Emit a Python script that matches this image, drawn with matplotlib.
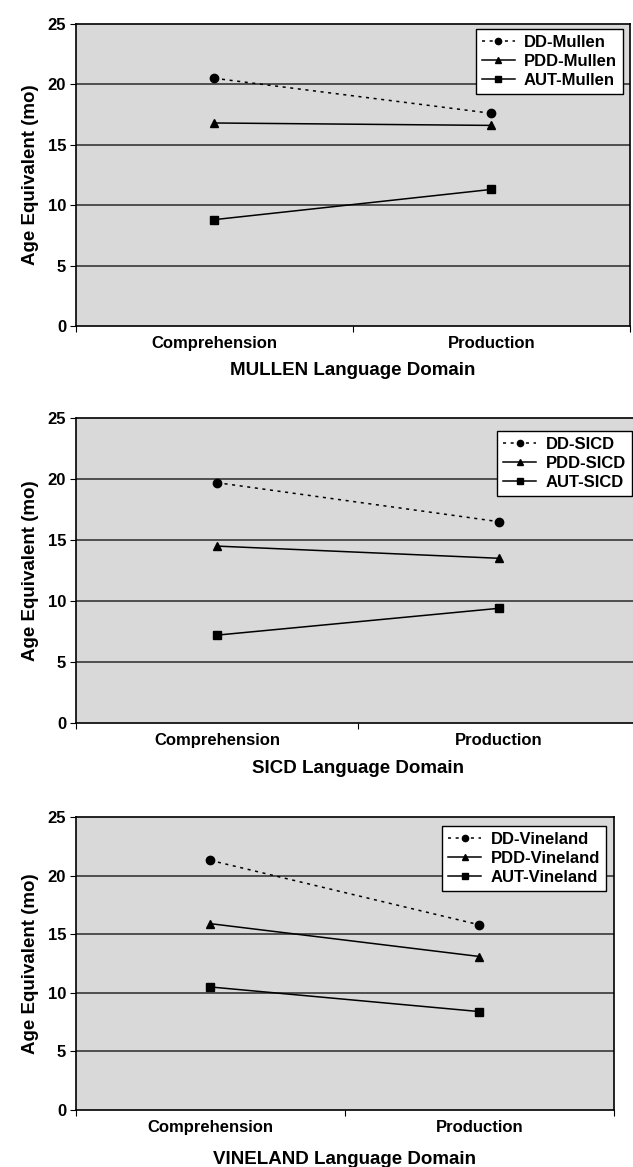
import matplotlib
matplotlib.use("Agg")
import matplotlib.pyplot as plt

plt.rcParams['font.family'] = ['Liberation Sans', 'DejaVu Sans']
plt.rcParams['font.weight'] = 'bold'

domains = ["Comprehension", "Production"]
panels = ["MULLEN", "SICD", "VINELAND"]
legend_names = ["Mullen", "SICD", "Vineland"]

dd_mullen = [20.5, 17.6]
pdd_mullen = [16.8, 16.6]
aut_mullen = [8.8, 11.3]

dd_sicd = [19.7, 16.5]
pdd_sicd = [14.5, 13.5]
aut_sicd = [7.2, 9.4]

dd_vineland = [21.3, 15.8]
pdd_vineland = [15.9, 13.1]
aut_vineland = [10.5, 8.4]

series = [
    (dd_mullen, pdd_mullen, aut_mullen),
    (dd_sicd, pdd_sicd, aut_sicd),
    (dd_vineland, pdd_vineland, aut_vineland),
]

fig = plt.figure(figsize=(6.33, 11.67), dpi=100)

# axes boxes in figure fractions [left, bottom, width, height]
boxes = [
    [0.120, 0.7207, 0.875, 0.2588],
    [0.120, 0.3805, 0.891, 0.2613],
    [0.120, 0.0488, 0.850, 0.2511],
]
# upper right corner of each legend, figure fractions
legend_corners = [(0.984, 0.9751), (0.998, 0.6307), (0.957, 0.2922)]
xlabel_pads = [8, 9, 12]

for i, panel in enumerate(panels):
    ax = fig.add_axes(boxes[i])
    ax.set_facecolor('#d9d9d9')
    dd, pdd, aut = series[i]
    name = legend_names[i]
    x = [0.5, 1.5]

    # grid lines
    for g in [5, 10, 15, 20]:
        ax.axhline(g, color='#2a2a2a', linewidth=1.1, zorder=1)

    ax.plot(x, dd, linestyle=(0, (2, 3)), marker='o', color='black',
            markersize=6, linewidth=1.1, label=f"DD-{name}", zorder=3)
    ax.plot(x, pdd, linestyle='-', marker='^', color='black',
            markersize=6, linewidth=1.1, label=f"PDD-{name}", zorder=3)
    ax.plot(x, aut, linestyle='-', marker='s', color='black',
            markersize=5.5, linewidth=1.1, label=f"AUT-{name}", zorder=3)

    ax.set_xlim(0, 2)
    ax.set_ylim(0, 25)
    ax.set_yticks([0, 5, 10, 15, 20, 25])
    ax.set_xticks([0, 1, 2])
    ax.set_xticklabels([])
    ax.set_xticks(x, minor=True)
    ax.set_xticklabels(domains, minor=True, fontsize=12, fontweight='bold')
    ax.tick_params(axis='x', which='minor', length=0, pad=7)
    ax.tick_params(axis='x', which='major', length=4, direction='out')
    ax.tick_params(axis='y', length=4, direction='out', labelsize=12, pad=3)
    for lab in ax.get_yticklabels():
        lab.set_fontweight('bold')

    for s in ax.spines.values():
        s.set_color('black')
        s.set_linewidth(1.2)

    ax.set_ylabel("Age Equivalent (mo)", fontsize=13.5, fontweight='bold', labelpad=6)
    ax.set_xlabel(f"{panel} Language Domain", fontsize=13.5, fontweight='bold',
                  labelpad=xlabel_pads[i])

    leg = ax.legend(loc='upper right', bbox_to_anchor=legend_corners[i],
                    bbox_transform=fig.transFigure,
                    frameon=True, fancybox=False, fontsize=12,
                    handlelength=2.0, handletextpad=0.55, borderpad=0.35,
                    labelspacing=0.25, borderaxespad=0.0)
    leg.get_frame().set_edgecolor('black')
    leg.get_frame().set_facecolor('white')
    leg.get_frame().set_alpha(1.0)
    leg.get_frame().set_linewidth(1.0)
    for t in leg.get_texts():
        t.set_fontweight('bold')
    for h in leg.legend_handles:
        h.set_markersize(4.5)

fig.savefig("out.png", dpi=100)
